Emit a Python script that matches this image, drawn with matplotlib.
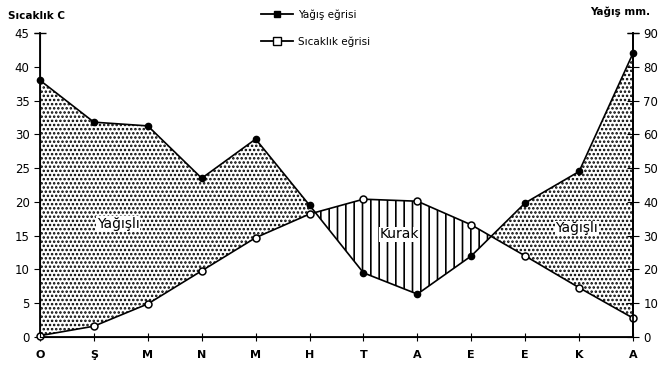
import numpy as np
import matplotlib
matplotlib.use("Agg")
import matplotlib.pyplot as plt
from matplotlib.lines import Line2D

aylar = ["O", "Ş", "M", "N", "M", "H", "T", "A", "E", "E", "K", "A"]
sicaklik = [0.2, 1.6, 4.9, 9.8, 14.7, 18.2, 20.4, 20.1, 16.6, 12.0, 7.3, 2.8]
yagis = [76.0, 63.6, 62.5, 47.0, 58.6, 39.0, 19.0, 12.7, 24.0, 39.7, 49.0, 84.0]

plt.rcParams["hatch.linewidth"] = 1.2
plt.rcParams["font.family"] = ["DejaVu Sans"]

fig = plt.figure(figsize=(6.63, 3.71), dpi=100)
ax = fig.add_axes([40/663, 1-337/371, 593/663, 304/371])

x = np.arange(len(aylar))
t = np.array(sicaklik)
p = np.array(yagis) / 2.0  # yagis ekseni sicakligin iki kati

# yagisli ve kurak alanlar
ax.fill_between(x, t, p, where=p >= t, interpolate=True, facecolor="white",
                edgecolor="black", hatch="....", linewidth=0)
ax.fill_between(x, t, p, where=p < t, interpolate=True, facecolor="white",
                edgecolor="black", hatch="||", linewidth=0)

ax.plot(x, p, "-", color="black", lw=1.2, marker="o", ms=4.5,
        mfc="black", mec="black", clip_on=False, zorder=5)
ax.plot(x, t, "-", color="black", lw=1.2, marker="o", ms=5,
        mfc="white", mec="black", mew=1.1, clip_on=False, zorder=5)

ax.set_xlim(0, 11)
ax.set_ylim(0, 45)
ax.spines["top"].set_visible(False)
for s in ["left", "right", "bottom"]:
    ax.spines[s].set_linewidth(1.3)
ax.set_xticks(x)
ax.set_xticklabels(aylar, fontsize=8, fontweight="bold")
ax.tick_params(axis="x", direction="inout", length=6, pad=6)
ax.set_yticks(np.arange(0, 46, 5))
ax.tick_params(axis="y", direction="out", length=4, labelsize=8.5)

ax2 = ax.twinx()
ax2.set_ylim(0, 90)
ax2.spines["top"].set_visible(False)
ax2.spines["right"].set_linewidth(1.3)
ax2.set_yticks(np.arange(0, 91, 10))
ax2.tick_params(axis="y", direction="inout", length=8, labelsize=8.5)

# eksen ucundaki T isaretleri
ax.plot([0], [45], marker="_", ms=8, color="black", clip_on=False)
ax2.plot([11], [90], marker="_", ms=8, color="black", clip_on=False)

ax.text(1.45, 16.7, "Yağışlı", ha="center", va="center", fontsize=10,
        bbox=dict(facecolor="white", edgecolor="none", pad=0.5))
ax.text(6.67, 15.2, "Kurak", ha="center", va="center", fontsize=10,
        bbox=dict(facecolor="white", edgecolor="none", pad=0.5))
ax.text(9.96, 16.1, "Yağışlı", ha="center", va="center", fontsize=10,
        bbox=dict(facecolor="white", edgecolor="none", pad=0.5))

fig.text(8/663, 1-16/371, "Sıcaklık C", fontsize=7.5, fontweight="bold", va="center")
fig.text(590/663, 1-12/371, "Yağış mm.", fontsize=7.5, fontweight="bold", va="center")

h1 = Line2D([], [], color="black", lw=1.3, marker="s", ms=5, mfc="black", mec="black")
h2 = Line2D([], [], color="black", lw=1.3, marker="s", ms=6, mfc="white", mec="black")
fig.legend([h1, h2], ["Yağış eğrisi", "Sıcaklık eğrisi"], loc="upper left",
           bbox_to_anchor=(252/663, 1.0), frameon=False, fontsize=7.5,
           labelspacing=1.6, handlelength=3.0, handletextpad=0.5)

fig.savefig("out.png", dpi=100)
